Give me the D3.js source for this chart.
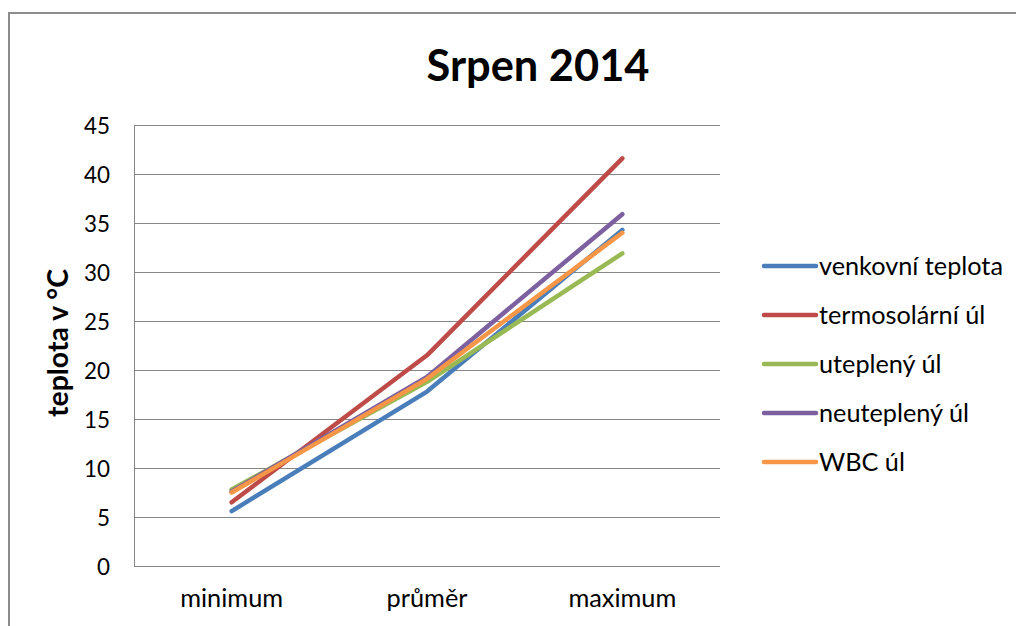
<!DOCTYPE html>
<html><head><meta charset="utf-8">
<script src="https://cdn.jsdelivr.net/npm/d3@7"></script>
<style>body{margin:0;background:#fff;} svg{display:block;} text{font-family:Lato,"Open Sans",sans-serif;fill:#000;}</style>
</head><body>
<script>
const categories = ["minimum", "průměr", "maximum"];
const seriesNames = ["venkovní teplota", "termosolární úl", "uteplený úl", "neuteplený úl", "WBC úl"];
const venkovni = [5.6, 17.8, 34.3];
const termosolarni = [6.5, 21.5, 41.6];
const utepleny = [7.8, 18.8, 31.9];
const neutepleny = [7.6, 19.3, 35.9];
const wbc = [7.5, 19.1, 34.0];
const yTicks = [0, 5, 10, 15, 20, 25, 30, 35, 40, 45];
const colors = ["#4A7EBB", "#BE4B48", "#98B954", "#7D60A0", "#F79646"];
const allSeries = [venkovni, termosolarni, utepleny, neutepleny, wbc];

(function () {
const W = 1016, H = 626;
const FONT = "Lato,'Open Sans',sans-serif";
const svg = d3.select("body").append("svg").attr("width", W).attr("height", H);
svg.append("rect").attr("width", W).attr("height", H).attr("fill", "#fff");
// outer chart border
svg.append("rect").attr("x", 9).attr("y", 13).attr("width", 1100).attr("height", 700)
  .attr("fill", "none").attr("stroke", "#8c8c8c").attr("stroke-width", 2);

// font size that makes a sample string reach a given width
function fitSize(str, width, weight) {
  const t = svg.append("text").attr("font-size", 100).attr("font-family", FONT)
    .attr("font-weight", weight || "normal").text(str);
  const w = t.node().getComputedTextLength();
  t.remove();
  return 100 * width / w;
}
const tickSize = fitSize("45", 26);
const catSize = fitSize("minimum", 103);
const legSize = fitSize("venkovní teplota", 184);
const titleSize = fitSize("Srpen 2014", 223, "bold");
const yTitleSize = fitSize("teplota v °C", 148, "bold");

const pLeft = 134, pRight = 720, pTop = 125, pBottom = 566;
const x = d3.scaleBand().domain(categories).range([pLeft, pRight]);
const y = d3.scaleLinear().domain([0, 45]).range([pBottom, pTop]);

// gridlines
svg.append("g").selectAll("line").data(yTicks).join("line")
  .attr("x1", pLeft).attr("x2", pRight).attr("y1", d => Math.round(y(d)) + 0.5).attr("y2", d => Math.round(y(d)) + 0.5)
  .attr("stroke", "#868686").attr("stroke-width", 1);
// y axis line
svg.append("line").attr("x1", pLeft + 0.5).attr("x2", pLeft + 0.5).attr("y1", pTop).attr("y2", pBottom)
  .attr("stroke", "#868686");

// y tick labels
const yAxis = d3.axisLeft(y).tickValues(yTicks).tickSize(0).tickPadding(24);
const gy = svg.append("g").attr("transform", `translate(${pLeft},0)`).call(yAxis);
gy.select(".domain").remove();
gy.selectAll("text").attr("font-size", tickSize).attr("font-family", FONT).attr("fill", "#000")
  .attr("dy", "0.4em");

// x labels
const xAxis = d3.axisBottom(x).tickSize(0).tickPadding(23);
const gx = svg.append("g").attr("transform", `translate(0,${pBottom})`).call(xAxis);
gx.select(".domain").remove();
gx.selectAll("text").attr("font-size", catSize).attr("font-family", FONT).attr("fill", "#000");

// lines
const line = d3.line().x((d, i) => x(categories[i]) + x.bandwidth() / 2).y(d => y(d));
allSeries.forEach((s, k) => {
  svg.append("path").datum(s).attr("d", line).attr("fill", "none")
    .attr("stroke", colors[k]).attr("stroke-width", 4.5)
    .attr("stroke-linecap", "round").attr("stroke-linejoin", "round");
});

// title
svg.append("text").attr("x", 538).attr("y", 81).attr("text-anchor", "middle")
  .attr("font-size", titleSize).attr("font-weight", "bold").text("Srpen 2014");

// y axis title
svg.append("text").attr("transform", "translate(68,343) rotate(-90)").attr("text-anchor", "middle")
  .attr("font-size", yTitleSize).attr("font-weight", "bold").text("teplota v °C");

// legend
const lg = svg.append("g");
seriesNames.forEach((n, i) => {
  const yy = 266 + i * 49;
  lg.append("line").attr("x1", 764).attr("x2", 816).attr("y1", yy).attr("y2", yy)
    .attr("stroke", colors[i]).attr("stroke-width", 4.5).attr("stroke-linecap", "round");
  lg.append("text").attr("x", 819).attr("y", yy).attr("dy", "0.36em").attr("font-size", legSize).text(n);
});
})();
</script>
</body></html>
